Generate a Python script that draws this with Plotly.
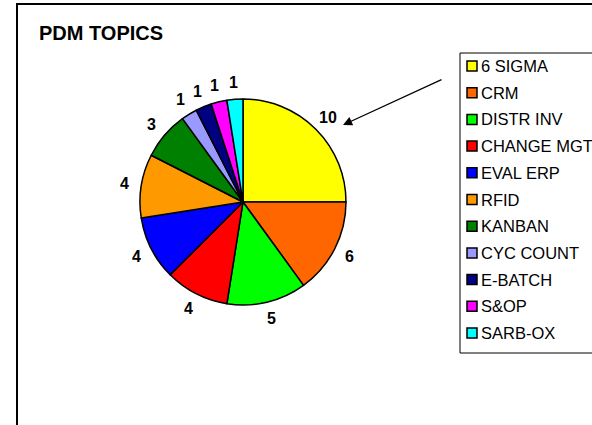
import math
import plotly.graph_objects as go

labels = ["6 SIGMA", "CRM", "DISTR INV", "CHANGE MGT", "EVAL ERP", "RFID",
          "KANBAN", "CYC COUNT", "E-BATCH", "S&OP", "SARB-OX"]
values = [10, 6, 5, 4, 4, 4, 3, 1, 1, 1, 1]
colors = ["#FFFF00", "#FF6600", "#00FF00", "#FF0000", "#0000FF", "#FF9900",
          "#008000", "#9999FF", "#000080", "#FF00FF", "#00FFFF"]
title_text = "PDM TOPICS"

W, H = 592, 425
FONT = "Liberation Sans, Arial, sans-serif"

def px(x):
    return x / W

def py(y):
    return 1 - y / H

# pie geometry (window pixels)
CX, CY, R = 243, 202, 103
LABEL_R = R + 17

fig = go.Figure()
fig.add_trace(go.Pie(
    labels=labels, values=values, sort=False, direction="clockwise", rotation=0,
    marker=dict(colors=colors, line=dict(color="#000000", width=1.5)),
    textinfo="none",
    domain=dict(x=[px(CX - R), px(CX + R)], y=[py(CY + R), py(CY - R)]),
    showlegend=False, hoverinfo="label+value",
))

shapes = []
annotations = []

# value labels placed around the pie, at each slice's mid-angle
total = sum(values)
cum = 0
for v in values:
    theta = 2 * math.pi * (cum + v / 2) / total
    cum += v
    lx = CX + LABEL_R * math.sin(theta)
    ly = CY - LABEL_R * math.cos(theta)
    annotations.append(dict(xref="paper", yref="paper", x=px(lx), y=py(ly),
                            text="<b>%d</b>" % v, showarrow=False,
                            xanchor="center", yanchor="middle",
                            font=dict(family=FONT, size=16, color="#000000")))

# outer chart frame
shapes.append(dict(type="rect", xref="paper", yref="paper",
                   x0=px(17), y0=py(4), x1=px(W + 20), y1=py(H + 20),
                   line=dict(color="#000000", width=2)))
# legend box
shapes.append(dict(type="rect", xref="paper", yref="paper",
                   x0=px(460), y0=py(53), x1=px(W + 10), y1=py(353),
                   line=dict(color="#000000", width=1), fillcolor="#FFFFFF",
                   layer="below"))
y_first, step = 66, 26.7
for i, (lab, col) in enumerate(zip(labels, colors)):
    yc = y_first + step * i
    shapes.append(dict(type="rect", xref="paper", yref="paper",
                       x0=px(467), y0=py(yc - 5), x1=px(477), y1=py(yc + 5),
                       fillcolor=col, line=dict(color="#000000", width=1.5)))
    annotations.append(dict(xref="paper", yref="paper", x=px(479), y=py(yc),
                            text=lab, showarrow=False, xanchor="left", yanchor="middle",
                            font=dict(family=FONT, size=16.5, color="#000000")))

annotations.append(dict(xref="paper", yref="paper", x=px(37), y=py(33),
                        text="<b>" + title_text + "</b>", showarrow=False,
                        xanchor="left", yanchor="middle",
                        font=dict(family=FONT, size=20, color="#000000")))
# arrow pointing to the largest slice
annotations.append(dict(xref="paper", yref="paper", x=px(343), y=py(125),
                        ax=100, ay=-46, text="", showarrow=True,
                        arrowhead=2, arrowsize=1.4, arrowwidth=1.3,
                        arrowcolor="#000000"))

fig.update_layout(
    width=W, height=H, margin=dict(l=0, r=0, t=0, b=0),
    paper_bgcolor="#FFFFFF", plot_bgcolor="#FFFFFF",
    shapes=shapes, annotations=annotations,
    font=dict(family=FONT),
)
fig.write_html("out.html", config={"displayModeBar": False},
               post_script="document.body.style.margin='0px';document.body.style.overflow='hidden';")
